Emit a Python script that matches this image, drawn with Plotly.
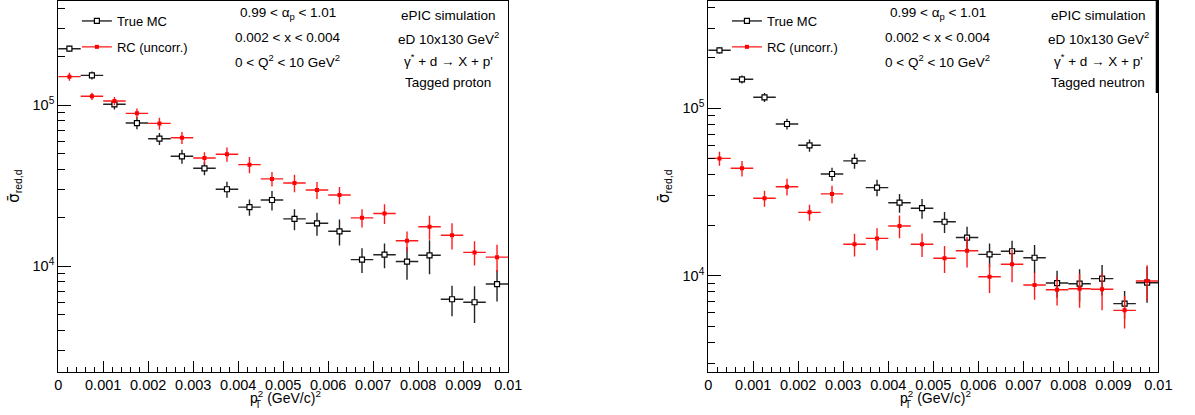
import plotly.graph_objects as go

# pT^2 bin centres and half-widths (GeV/c)^2
pt2 = [0.00025, 0.00075, 0.00125, 0.00175, 0.00225, 0.00275, 0.00325, 0.00375, 0.00425, 0.00475,
       0.00525, 0.00575, 0.00625, 0.00675, 0.00725, 0.00775, 0.00825, 0.00875, 0.00925, 0.00975]
half_bin = [0.00025] * 20

# Tagged proton
mc_p = [224700, 153500, 101400, 77600, 62000, 48200, 40600, 30100, 23300, 25800,
        19700, 18500, 16500, 11000, 11800, 10700, 11700, 6240, 5980, 7760]
mc_p_err = [9600, 8800, 7200, 6700, 5300, 4800, 3800, 3400, 2700, 3600,
            2950, 3000, 3060, 1930, 2070, 2450, 2790, 1340, 1540, 1720]
rc_p = [150600, 113700, 106300, 89100, 77200, 62900, 47100, 49600, 42800, 34900,
        32900, 29800, 27700, 20000, 21300, 14400, 17600, 15600, 12200, 11400]
rc_p_err = [8600, 6000, 6100, 6400, 6600, 5400, 4000, 5000, 4900, 3600,
            4100, 3600, 3400, 2600, 3000, 2060, 3000, 2900, 2090, 2230]

# Tagged neutron
mc_n = [222000, 149000, 116300, 80600, 60100, 40500, 48500, 33600, 27300, 25300,
        21000, 16900, 13400, 14000, 12800, 9040, 8960, 9600, 6810, 9080]
mc_n_err = [9200, 8200, 7200, 5900, 5100, 3700, 5000, 3800, 3500, 3400,
            3000, 2700, 2160, 2170, 2470, 1650, 1950, 1980, 1280, 2190]
rc_n = [50200, 43800, 29000, 34000, 23900, 30800, 15400, 16700, 19800, 15400,
        12700, 14100, 9860, 11700, 8790, 8240, 8350, 8300, 6210, 9290]
rc_n_err = [4800, 4700, 3200, 3900, 2630, 3700, 2390, 2520, 3050, 2480,
            2320, 2900, 1970, 2570, 1610, 1610, 1920, 2090, 1370, 2240]

x_ticks = [0, 0.001, 0.002, 0.003, 0.004, 0.005, 0.006, 0.007, 0.008, 0.009, 0.01]
x_ticktext = ["0", "0.001", "0.002", "0.003", "0.004", "0.005", "0.006", "0.007", "0.008", "0.009", "0.01"]
y_ticks = [1e4, 1e5]
y_ticktext = ["10<sup>4</sup>", "10<sup>5</sup>"]

cuts_text = ["0.99 < α<sub>p</sub> < 1.01", "0.002 < x < 0.004", "0 < Q<sup>2</sup> < 10 GeV<sup>2</sup>"]
sim_text_p = ["ePIC simulation", "eD 10x130 GeV<sup>2</sup>", "γ<sup>*</sup> + d → X + p'", "Tagged proton"]
sim_text_n = ["ePIC simulation", "eD 10x130 GeV<sup>2</sup>", "γ<sup>*</sup> + d → X + p'", "Tagged neutron"]

W, H = 1195, 415
FONT = "Liberation Sans, Arial, sans-serif"
panels = [
    dict(x0=55, x1=512, yr=[3.3453, 5.6478], mc=mc_p, mce=mc_p_err, rc=rc_p, rce=rc_p_err, sim=sim_text_p),
    dict(x0=715, x1=1172, yr=[3.4265, 5.641], mc=mc_n, mce=mc_n_err, rc=rc_n, rce=rc_n_err, sim=sim_text_n),
]
top_px, bot_px = 1, 371.7

def px(x):
    return x / W

def py(y):
    return 1 - y / H

fig = go.Figure()
annotations = []
shapes = []
minor_x = [i * 0.0002 for i in range(51) if i % 5 != 0]
minor_y = [k * 10 ** e for e in (3, 4, 5) for k in range(2, 10)]

for i, p in enumerate(panels):
    n = "" if i == 0 else str(i + 1)
    xa, ya = "x" + n, "y" + n
    lg = "legend" + n
    # True MC
    fig.add_trace(go.Scatter(
        x=pt2, y=p["mc"], xaxis=xa, yaxis=ya, mode="markers", showlegend=False,
        marker=dict(symbol="square", size=5, color="white", line=dict(color="black", width=1.2)),
        error_y=dict(type="data", array=p["mce"], color="#222222", thickness=1.4, width=0),
        error_x=dict(type="data", array=half_bin, color="#222222", thickness=1.4, width=0),
    ))
    # RC (uncorrected)
    fig.add_trace(go.Scatter(
        x=pt2, y=p["rc"], xaxis=xa, yaxis=ya, mode="markers", showlegend=False,
        marker=dict(symbol="square", size=4, color="#ff0000", line=dict(width=0)),
        error_y=dict(type="data", array=p["rce"], color="#ff1a1a", thickness=1.4, width=0),
        error_x=dict(type="data", array=half_bin, color="#ff1a1a", thickness=1.4, width=0),
    ))
    # legend entries
    fig.add_trace(go.Scatter(
        x=[None], y=[None], xaxis=xa, yaxis=ya, mode="lines+markers", name="True MC",
        legend=lg, legendgroup="mc" + n,
        line=dict(color="black", width=1.2),
        marker=dict(symbol="square", size=5, color="white", line=dict(color="black", width=1.2)),
    ))
    fig.add_trace(go.Scatter(
        x=[None], y=[None], xaxis=xa, yaxis=ya, mode="lines+markers", name="RC (uncorr.)",
        legend=lg, legendgroup="rc" + n,
        line=dict(color="#ff3030", width=1.4),
        marker=dict(symbol="square", size=4, color="#ff0000"),
    ))

    dom_x = [px(p["x0"]), px(p["x1"])]
    dom_y = [py(bot_px), py(top_px)]
    fig.update_layout(**{
        "xaxis" + n: dict(
            domain=dom_x, range=[0, 0.01], anchor=ya, showgrid=False, zeroline=False,
            showline=True, linecolor="black", linewidth=1, mirror=True,
            ticks="inside", ticklen=11, tickwidth=1, tickcolor="black",
            tickmode="array", tickvals=x_ticks, ticktext=x_ticktext,
            tickfont=dict(family=FONT, size=14.5, color="black"),
            minor=dict(ticks="inside", ticklen=5, tickwidth=1, tickcolor="black",
                       tickmode="array", tickvals=minor_x),
        ),
        "yaxis" + n: dict(
            domain=dom_y, type="log", range=p["yr"], anchor=xa, showgrid=False, zeroline=False,
            showline=True, linecolor="black", linewidth=1, mirror=True,
            ticks="inside", ticklen=13, tickwidth=1, tickcolor="black",
            tickmode="array", tickvals=y_ticks, ticktext=y_ticktext,
            tickfont=dict(family=FONT, size=14.5, color="black"),
            minor=dict(ticks="inside", ticklen=7, tickwidth=1, tickcolor="black",
                       tickmode="array", tickvals=minor_y),
        ),
        lg: dict(
            x=px(p["x0"] + 19), y=py(6), xanchor="left", yanchor="top",
            bgcolor="rgba(0,0,0,0)", borderwidth=0, tracegroupgap=6,
            font=dict(family=FONT, size=13, color="black"),
        ),
    })

    # cut labels
    for j, t in enumerate(cuts_text):
        annotations.append(dict(
            text=t, x=px(p["x0"] + 233), y=py(13.5 + 23.6 * j), xref="paper", yref="paper",
            xanchor="center", yanchor="middle", showarrow=False,
            font=dict(family=FONT, size=13.5, color="black"),
        ))
    for j, t in enumerate(p["sim"]):
        annotations.append(dict(
            text=t, x=px(p["x0"] + 396), y=py(15.5 + 22.4 * j), xref="paper", yref="paper",
            xanchor="center", yanchor="middle", showarrow=False,
            font=dict(family=FONT, size=13.5, color="black"),
        ))
    # x axis title: p with stacked superscript 2 and subscript T
    xt0 = (p["x0"] + p["x1"]) / 2 - 36
    annotations.append(dict(
        text="p<sup>2</sup> (GeV/c)<sup>2</sup>",
        x=px(xt0), y=py(397), xref="paper", yref="paper",
        xanchor="left", yanchor="middle", showarrow=False,
        font=dict(family=FONT, size=14, color="black"),
    ))
    annotations.append(dict(
        text="T", x=px(xt0 + 10.6), y=py(404), xref="paper", yref="paper",
        xanchor="center", yanchor="middle", showarrow=False,
        font=dict(family=FONT, size=10, color="black"),
    ))
    # y axis title: sigma with an overbar
    annotations.append(dict(
        text="<span style='font-family:DejaVu Sans'>σ\u0304</span><sub>red,d</sub>", textangle=-90,
        x=px(p["x0"] - 45), y=py(186), xref="paper", yref="paper",
        xanchor="center", yanchor="middle", showarrow=False,
        font=dict(family=FONT, size=15, color="black"),
    ))

# pave border on the neutron panel
shapes.append(dict(type="line", xref="paper", yref="paper",
                   x0=px(1170.6), x1=px(1170.6), y0=py(0), y1=py(93),
                   line=dict(color="black", width=2.5)))

fig.update_layout(
    width=W, height=H, autosize=False,
    margin=dict(l=0, r=0, t=0, b=0),
    paper_bgcolor="white", plot_bgcolor="white",
    annotations=annotations, shapes=shapes,
    font=dict(family=FONT, color="black"),
)

fig.write_html("out.html")
